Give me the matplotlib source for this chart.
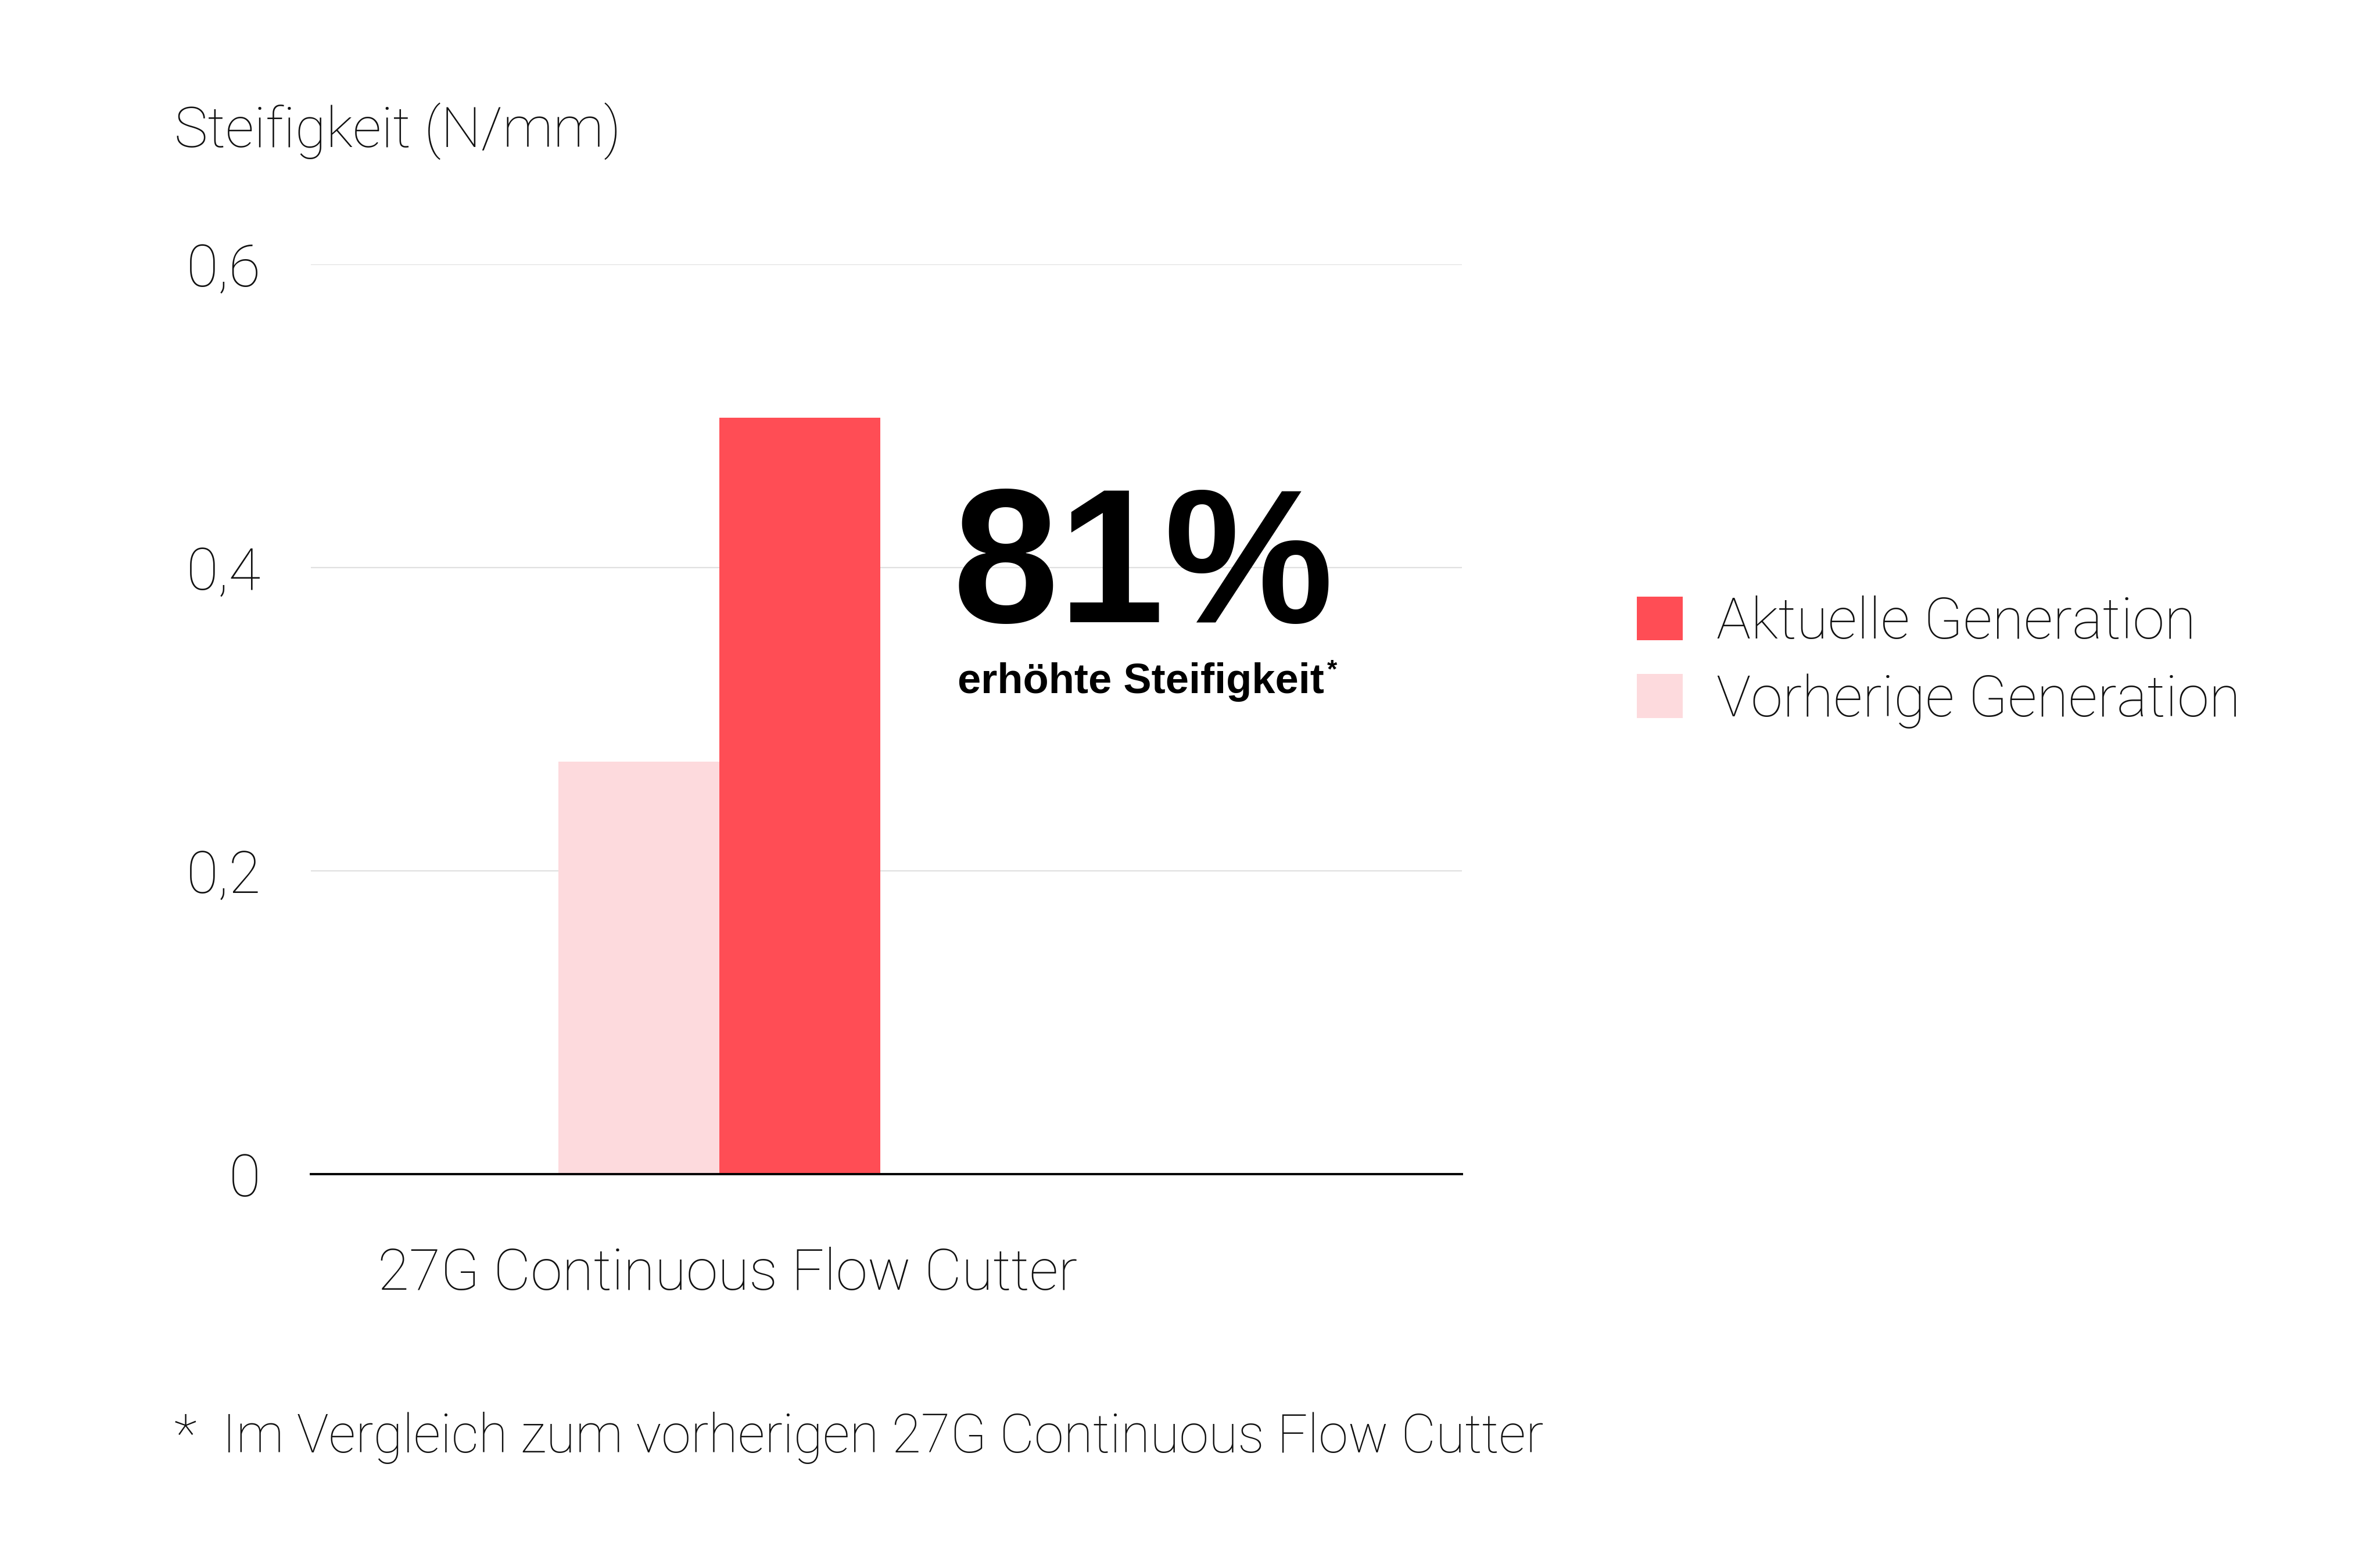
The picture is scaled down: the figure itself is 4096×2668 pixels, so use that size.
import matplotlib
matplotlib.use("Agg")
import matplotlib.pyplot as plt
from matplotlib.patches import Patch
import numpy as np

# ---- data ----
categories = ["27G Continuous Flow Cutter"]
series_names = ["Aktuelle Generation", "Vorherige Generation"]
aktuelle = [0.499]
vorherige = [0.272]
y_ticks = [0, 0.2, 0.4, 0.6]
y_tick_labels = ["0", "0,2", "0,4", "0,6"]
y_title = "Steifigkeit (N/mm)"
highlight = "81%"
highlight_sub = "erhöhte Steifigkeit"
footnote = "*  Im Vergleich zum vorherigen 27G Continuous Flow Cutter"

RED = "#FF4D55"
PINK = "#FDDADD"

W, H = 4096, 2668
DPI = 200
plt.rcParams['font.family'] = ['Roboto', 'DejaVu Sans']
fig = plt.figure(figsize=(W / DPI, H / DPI), dpi=DPI)
fig.patch.set_facecolor("white")

def fx(x):
    return x / W

def fy(y):
    return 1 - y / H

ax_l, ax_r, ax_t, ax_b = 535, 2516, 455, 2021
ax = fig.add_axes([fx(ax_l), fy(ax_b), (ax_r - ax_l) / W, (ax_b - ax_t) / H])

x = np.arange(len(categories))
bw = 0.4
ax.bar(x - bw / 2, vorherige, width=bw, color=PINK, zorder=2)
ax.bar(x + bw / 2, aktuelle, width=bw, color=RED, zorder=2)

ax.set_xlim(-1.015, 1.846)
ax.set_ylim(0, 0.6)
ax.set_yticks(y_ticks)
ax.set_yticklabels(y_tick_labels)
ax.set_xticks(x + 0.02)
ax.set_xticklabels(categories)

LIGHT = 'light'
TXT = '#111111'
ax.tick_params(axis='y', length=0, pad=31, labelsize=36, labelcolor=TXT)
ax.tick_params(axis='x', length=0, pad=45, labelsize=35.5, labelcolor=TXT)
for lab in ax.get_yticklabels() + ax.get_xticklabels():
    lab.set_fontweight(LIGHT)

ax.grid(axis='y', color='#e0e0e0', linewidth=0.8, zorder=0)
ax.grid(axis='x', visible=False)
for s in ['top', 'right', 'left']:
    ax.spines[s].set_visible(False)
ax.spines['bottom'].set_color('black')
ax.spines['bottom'].set_linewidth(1.4)
ax.spines['bottom'].set_zorder(3)
ax.set_facecolor('white')

# title
fig.text(fx(300), fy(253), y_title, fontsize=35, fontweight=LIGHT,
         ha='left', va='baseline', color=TXT)

# highlight annotation
fig.text(fx(1640), fy(1071), highlight, fontsize=118, fontweight='bold',
         family=['Liberation Sans', 'DejaVu Sans'], ha='left', va='baseline', color='black')
fig.text(fx(1648), fy(1193), highlight_sub, fontsize=26, fontweight='bold',
         family=['Liberation Sans', 'DejaVu Sans'], ha='left', va='baseline', color='black')
fig.text(fx(2284), fy(1166), "*", fontsize=16, fontweight='bold',
         family=['Liberation Sans', 'DejaVu Sans'], ha='left', va='baseline', color='black')

# legend
handles = [Patch(facecolor=RED, edgecolor='none'), Patch(facecolor=PINK, edgecolor='none')]
leg = fig.legend(handles, series_names, loc='upper left',
                 bbox_to_anchor=(fx(2817), fy(1025)), frameon=False,
                 fontsize=35.7, handlelength=0.8, handleheight=0.8,
                 handletextpad=0.58, labelspacing=0.4, borderpad=0, borderaxespad=0)
for txt in leg.get_texts():
    txt.set_fontweight(LIGHT)
    txt.set_color(TXT)

# footnote
fig.text(fx(300), fy(2500), footnote, fontsize=33.1, fontweight=LIGHT,
         ha='left', va='baseline', color=TXT)

fig.savefig("out.png", dpi=DPI, facecolor='white')
